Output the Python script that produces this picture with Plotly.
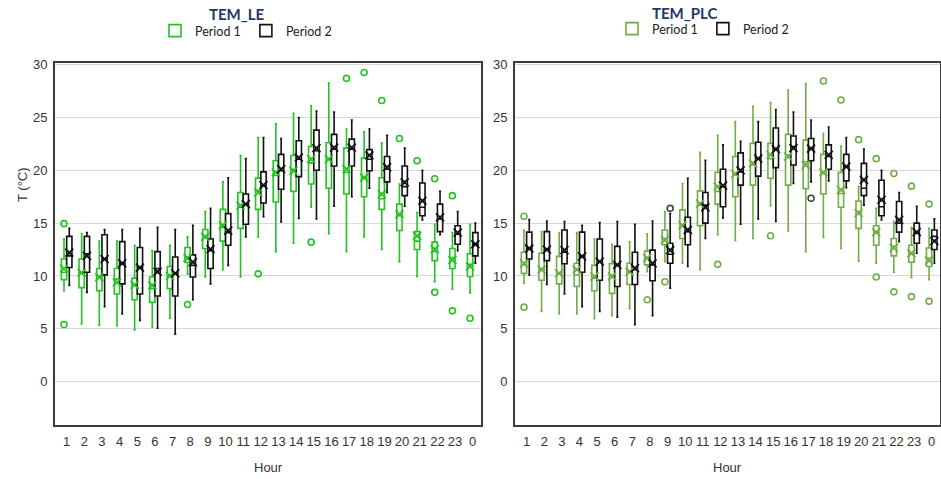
import numpy as np
import plotly.graph_objects as go

hours = ['1', '2', '3', '4', '5', '6', '7', '8', '9', '10', '11', '12',
         '13', '14', '15', '16', '17', '18', '19', '20', '21', '22', '23', '0']

# ---------------- TEM_LE ----------------
le_p1_q1 = [9.65, 8.9, 8.6, 8.3, 7.75, 7.5, 8.8, 11.3, 12.6, 13.3, 14.5, 16.3,
            17.0, 18.0, 18.7, 18.3, 17.75, 17.5, 16.3, 14.3, 12.5, 11.45, 10.7, 9.95]
le_p1_med = [10.35, 10.3, 10.0, 9.7, 9.1, 8.8, 10.0, 11.8, 13.8, 14.6, 16.5, 18.1,
             19.5, 20.1, 20.7, 21.05, 19.8, 19.3, 17.3, 15.7, 13.3, 12.3, 11.75, 11.1]
le_p1_q3 = [11.6, 11.6, 10.7, 10.7, 9.8, 9.9, 10.9, 12.7, 14.4, 16.3, 17.9, 19.26,
            20.9, 21.4, 22.25, 22.6, 22.1, 21.15, 19.3, 16.8, 14.2, 13.2, 12.6, 12.1]
le_p1_lo = [8.6, 5.45, 5.35, 5.3, 4.9, 5.15, 6.0, 10.2, 9.9, 10.6, 9.9, 13.7,
            12.3, 13.1, 16.5, 14.0, 12.3, 13.7, 12.5, 11.35, 9.95, 9.45, 8.75, 8.4]
le_p1_hi = [13.5, 14.0, 13.3, 13.3, 12.9, 12.4, 12.9, 13.7, 16.1, 18.9, 21.4, 23.1,
            24.4, 25.4, 26.1, 28.25, 23.9, 23.65, 22.6, 18.7, 16.0, 14.9, 14.1, 14.9]
le_p1_mean = [10.7, 10.3, 9.9, 9.4, 9.15, 9.1, 10.0, 11.7, 13.7, 14.8, 16.65, 17.9,
              19.8, 19.95, 21.05, 21.05, 20.1, 19.3, 17.75, 15.85, 13.8, 12.55, 11.5, 10.9]
le_p1_out_hour = ['1', '1', '8', '12', '15', '17', '18', '19', '20', '21', '22', '22', '23', '23', '0']
le_p1_out_val = [14.95, 5.4, 7.3, 10.2, 13.2, 28.7, 29.25, 26.6, 23.0, 20.9, 19.2, 8.45, 17.6, 6.7, 6.0]

le_p2_q1 = [10.8, 10.35, 10.1, 9.25, 8.3, 8.1, 8.1, 9.9, 10.7, 12.9, 14.9, 16.9,
            18.2, 19.4, 20.0, 20.4, 20.4, 19.95, 18.9, 17.6, 15.7, 14.2, 13.0, 11.9]
le_p2_med = [11.9, 12.1, 11.6, 11.2, 10.8, 10.7, 10.2, 11.0, 12.4, 14.1, 16.8, 18.5,
             19.95, 21.05, 21.85, 22.0, 22.0, 21.05, 20.1, 18.45, 16.5, 15.4, 13.95, 13.0]
le_p2_q3 = [13.75, 13.75, 13.9, 13.25, 12.7, 12.3, 11.8, 12.0, 13.5, 15.9, 17.75, 19.85,
            21.5, 22.8, 23.8, 23.4, 22.95, 21.95, 21.3, 20.4, 18.8, 16.8, 14.75, 14.1]
le_p2_lo = [9.1, 8.45, 7.1, 6.4, 5.8, 5.05, 4.5, 7.75, 9.25, 11.0, 13.7, 15.6,
            15.1, 15.45, 15.4, 16.6, 17.5, 18.3, 17.9, 16.6, 15.3, 13.9, 12.4, 11.2]
le_p2_hi = [14.5, 14.1, 14.4, 14.4, 14.5, 14.6, 14.4, 14.8, 16.4, 19.3, 21.1, 23.1,
            23.0, 25.0, 25.6, 25.5, 24.75, 23.9, 23.3, 22.1, 20.0, 18.0, 16.1, 15.0]
le_p2_mean = [12.2, 11.9, 11.6, 11.2, 10.8, 10.4, 10.25, 11.3, 12.55, 14.3, 16.8, 18.6,
              20.1, 21.2, 22.1, 22.15, 22.15, 21.4, 20.3, 18.85, 17.1, 15.55, 14.1, 13.0]
le_p2_out_hour = []
le_p2_out_val = []

# ---------------- TEM_PLC ----------------
plc_p1_q1 = [10.25, 9.6, 9.25, 9.0, 8.6, 8.35, 9.2, 11.05, 12.95, 13.55, 14.75, 16.8,
             17.5, 18.6, 19.25, 18.6, 18.25, 17.75, 16.5, 14.5, 12.9, 11.9, 11.3, 10.9]
plc_p1_med = [11.05, 10.7, 10.25, 10.1, 9.8, 10.1, 10.4, 11.7, 13.55, 14.8, 16.7, 18.0,
              19.55, 20.5, 21.1, 21.45, 20.8, 19.7, 17.8, 16.1, 14.05, 12.8, 12.05, 11.7]
plc_p1_q3 = [12.25, 12.15, 11.85, 11.2, 11.0, 11.15, 11.2, 12.35, 14.35, 16.25, 18.05, 19.8,
             21.3, 22.55, 22.55, 23.4, 22.85, 21.5, 19.8, 17.1, 14.75, 13.55, 12.9, 12.65]
plc_p1_lo = [9.3, 6.65, 6.4, 6.4, 5.95, 6.25, 6.9, 10.4, 11.35, 11.2, 10.6, 13.9,
             13.35, 13.55, 16.65, 14.25, 12.3, 13.65, 12.6, 11.4, 11.2, 10.35, 9.85, 9.65]
plc_p1_hi = [14.35, 14.2, 14.1, 14.1, 13.5, 13.0, 13.25, 14.0, 16.1, 18.75, 21.7, 23.3,
             24.6, 26.05, 26.4, 27.6, 28.2, 23.5, 22.3, 18.45, 16.4, 15.15, 14.6, 14.5]
plc_p1_mean = [11.2, 10.6, 10.25, 10.6, 9.95, 9.95, 10.4, 11.7, 13.4, 14.8, 16.85, 18.45,
               19.65, 20.65, 21.45, 21.3, 20.5, 19.8, 18.15, 15.95, 14.15, 12.65, 12.15, 11.45]
plc_p1_out_hour = ['1', '1', '8', '9', '12', '15', '18', '19', '20', '21', '21',
                   '22', '22', '23', '23', '0', '0']
plc_p1_out_val = [15.65, 7.05, 7.75, 9.45, 11.1, 13.8, 28.45, 26.65, 22.9, 21.1, 9.9,
                  19.7, 8.5, 18.5, 8.05, 16.8, 7.6]

plc_p2_q1 = [11.6, 11.45, 11.15, 10.35, 9.6, 9.0, 9.2, 9.55, 11.2, 12.95, 15.0, 16.55,
             18.6, 19.45, 20.25, 20.5, 20.9, 20.1, 19.0, 17.6, 15.7, 14.15, 13.1, 12.5]
plc_p2_med = [12.6, 12.55, 12.25, 11.85, 11.3, 11.0, 10.6, 11.05, 12.05, 14.2, 16.7, 18.45,
              19.85, 21.1, 21.9, 22.25, 22.0, 21.3, 20.35, 18.3, 16.55, 15.0, 14.05, 13.75]
plc_p2_q3 = [14.15, 14.2, 14.35, 14.15, 13.5, 12.8, 12.25, 12.45, 13.1, 15.55, 17.9, 20.1,
             21.65, 22.65, 24.0, 23.25, 23.0, 22.4, 21.5, 20.65, 19.05, 17.05, 15.0, 14.35]
plc_p2_lo = [10.1, 9.2, 8.3, 7.1, 6.65, 6.1, 5.4, 6.25, 8.85, 10.9, 13.55, 15.5,
             14.9, 15.4, 15.15, 18.75, 18.9, 19.0, 18.35, 16.7, 15.3, 13.25, 12.15, 11.2]
plc_p2_hi = [15.35, 15.2, 15.15, 14.8, 15.05, 15.15, 14.9, 15.2, 15.9, 19.25, 20.95, 22.4,
             22.75, 24.6, 25.75, 25.5, 24.75, 24.1, 23.1, 22.0, 20.0, 17.9, 16.6, 15.4]
plc_p2_mean = [12.6, 12.5, 12.45, 11.85, 11.35, 11.05, 10.75, 11.2, 12.45, 14.35, 16.5, 18.55,
               20.0, 21.1, 22.0, 22.1, 22.05, 21.45, 20.35, 19.1, 17.2, 15.3, 14.15, 13.3]
plc_p2_out_hour = ['9', '17']
plc_p2_out_val = [16.4, 17.35]

LE_GREEN = '#22C322'
PLC_GREEN = '#70AD47'
BLACK = '#111111'

W, H = 941, 479
pos = np.arange(len(hours))
OFF = 0.15
BW = 0.30

fig = go.Figure()


def add_period(xa, ya, legend, name, color, outcolor, off, q1, med, q3, lo, hi, mean,
               out_hour, out_val):
    fig.add_trace(go.Box(
        x=pos + off, q1=q1, median=med, q3=q3, lowerfence=lo, upperfence=hi,
        width=BW, boxpoints=False, whiskerwidth=0.4,
        line=dict(color=color, width=1.6), fillcolor='white',
        name=name, legend=legend, xaxis=xa, yaxis=ya, showlegend=True))
    fig.add_trace(go.Scatter(
        x=pos + off, y=mean, mode='markers', xaxis=xa, yaxis=ya, showlegend=False,
        marker=dict(symbol='x-thin', size=8, color=color, line=dict(color=color, width=1.8))))
    if out_hour:
        ox = [hours.index(h) + off for h in out_hour]
        fig.add_trace(go.Scatter(
            x=ox, y=out_val, mode='markers', xaxis=xa, yaxis=ya, showlegend=False,
            marker=dict(symbol='circle-open', size=6, color=outcolor,
                        line=dict(color=outcolor, width=1.6))))


add_period('x', 'y', 'legend', 'Period 1', LE_GREEN, LE_GREEN, -OFF,
           le_p1_q1, le_p1_med, le_p1_q3, le_p1_lo, le_p1_hi, le_p1_mean,
           le_p1_out_hour, le_p1_out_val)
add_period('x', 'y', 'legend', 'Period 2', BLACK, BLACK, OFF,
           le_p2_q1, le_p2_med, le_p2_q3, le_p2_lo, le_p2_hi, le_p2_mean,
           le_p2_out_hour, le_p2_out_val)
add_period('x2', 'y2', 'legend2', 'Period 1', PLC_GREEN, PLC_GREEN, -OFF,
           plc_p1_q1, plc_p1_med, plc_p1_q3, plc_p1_lo, plc_p1_hi, plc_p1_mean,
           plc_p1_out_hour, plc_p1_out_val)
add_period('x2', 'y2', 'legend2', 'Period 2', BLACK, '#444444', OFF,
           plc_p2_q1, plc_p2_med, plc_p2_q3, plc_p2_lo, plc_p2_hi, plc_p2_mean,
           plc_p2_out_hour, plc_p2_out_val)

tickfont = dict(family='Liberation Sans, Arial, sans-serif', size=13, color='#333333')
xcommon = dict(range=[-0.66, 23.47], tickmode='array', tickvals=list(pos), ticktext=hours,
               showgrid=False, zeroline=False, showline=True, mirror=True,
               linecolor='#3c3c3c', linewidth=2, ticks='outside', ticklen=3,
               tickcolor='rgba(0,0,0,0)', tickfont=tickfont, automargin=False)
ycommon = dict(range=[-4.1, 30.15], tickmode='array', tickvals=[0, 5, 10, 15, 20, 25, 30],
               showgrid=True, gridcolor='#d9d9d9', gridwidth=1, zeroline=False,
               showline=True, mirror=True, linecolor='#3c3c3c', linewidth=2,
               ticks='outside', ticklen=3, tickcolor='rgba(0,0,0,0)',
               tickfont=tickfont, automargin=False)

ydom = [(H - 425) / H, (H - 63) / H]
legend_font = dict(family='Lato, sans-serif', size=12.5, color='#222222')
fig.update_layout(
    width=W, height=H, margin=dict(l=0, r=0, t=0, b=0),
    paper_bgcolor='white', plot_bgcolor='white', boxmode='overlay',
    xaxis=dict(domain=[55 / W, 481 / W], anchor='y', **xcommon),
    yaxis=dict(domain=ydom, anchor='x', **ycommon),
    xaxis2=dict(domain=[515 / W, 940 / W], anchor='y2', **xcommon),
    yaxis2=dict(domain=ydom, anchor='x2', **ycommon),
    legend=dict(orientation='h', x=246 / W, xanchor='center', y=(H - 31) / H, yanchor='middle',
                font=legend_font, bgcolor='rgba(0,0,0,0)', itemwidth=30, tracegroupgap=0),
    legend2=dict(orientation='h', x=703 / W, xanchor='center', y=(H - 29) / H, yanchor='middle',
                 font=legend_font, bgcolor='rgba(0,0,0,0)', itemwidth=30, tracegroupgap=0),
    showlegend=True,
)

title_font = dict(family='Lato, sans-serif', size=15, color='#1F3864')
label_font = dict(family='Liberation Sans, Arial, sans-serif', size=13, color='#333333')
fig.add_annotation(text='<b>TEM_LE</b>', x=237 / W, y=(H - 14) / H, xref='paper', yref='paper',
                   showarrow=False, font=title_font, xanchor='center', yanchor='middle')
fig.add_annotation(text='<b>TEM_PLC</b>', x=684 / W, y=(H - 13) / H, xref='paper', yref='paper',
                   showarrow=False, font=title_font, xanchor='center', yanchor='middle')
fig.add_annotation(text='T (°C)', x=22 / W, y=(H - 185) / H, xref='paper', yref='paper',
                   showarrow=False, font=label_font, textangle=-90,
                   xanchor='center', yanchor='middle')
fig.add_annotation(text='Hour', x=0.5, y=(H - 467) / H, xref='x domain', yref='paper',
                   showarrow=False, font=label_font, xanchor='center', yanchor='middle')
fig.add_annotation(text='Hour', x=0.5, y=(H - 467) / H, xref='x2 domain', yref='paper',
                   showarrow=False, font=label_font, xanchor='center', yanchor='middle')

fig.write_html('out.html', config={'displayModeBar': False},
               post_script="document.body.style.margin='0';document.body.style.overflow='hidden';")
